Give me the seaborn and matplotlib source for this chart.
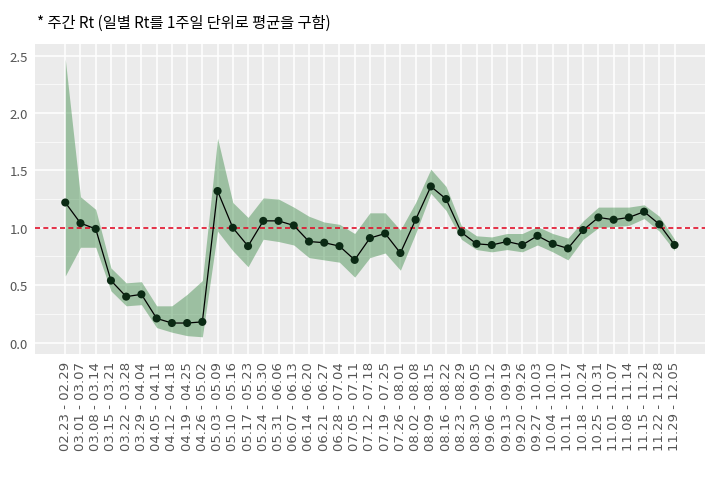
import seaborn as sns
import matplotlib.pyplot as plt
import numpy as np
import pandas as pd

weeks = ['02.23 - 02.29', '03.01 - 03.07', '03.08 - 03.14', '03.15 - 03.21', '03.22 - 03.28',
         '03.29 - 04.04', '04.05 - 04.11', '04.12 - 04.18', '04.19 - 04.25', '04.26 - 05.02',
         '05.03 - 05.09', '05.10 - 05.16', '05.17 - 05.23', '05.24 - 05.30', '05.31 - 06.06',
         '06.07 - 06.13', '06.14 - 06.20', '06.21 - 06.27', '06.28 - 07.04', '07.05 - 07.11',
         '07.12 - 07.18', '07.19 - 07.25', '07.26 - 08.01', '08.02 - 08.08', '08.09 - 08.15',
         '08.16 - 08.22', '08.23 - 08.29', '08.30 - 09.05', '09.06 - 09.12', '09.13 - 09.19',
         '09.20 - 09.26', '09.27 - 10.03', '10.04 - 10.10', '10.11 - 10.17', '10.18 - 10.24',
         '10.25 - 10.31', '11.01 - 11.07', '11.08 - 11.14', '11.15 - 11.21', '11.22 - 11.28',
         '11.29 - 12.05']
rt = [1.22, 1.04, 0.99, 0.54, 0.40, 0.42, 0.21, 0.17, 0.17, 0.18,
      1.32, 1.00, 0.84, 1.06, 1.06, 1.02, 0.88, 0.87, 0.84, 0.72,
      0.91, 0.95, 0.78, 1.07, 1.36, 1.25, 0.96, 0.86, 0.85, 0.88,
      0.85, 0.93, 0.86, 0.82, 0.98, 1.09, 1.07, 1.09, 1.14, 1.03,
      0.85]
rt_low = [0.58, 0.83, 0.83, 0.45, 0.32, 0.33, 0.13, 0.09, 0.06, 0.05,
          0.97, 0.80, 0.66, 0.90, 0.88, 0.85, 0.74, 0.72, 0.70, 0.57,
          0.74, 0.78, 0.63, 0.95, 1.30, 1.15, 0.90, 0.81, 0.79, 0.81,
          0.79, 0.85, 0.79, 0.72, 0.90, 1.00, 1.01, 1.02, 1.08, 0.97,
          0.80]
rt_high = [2.47, 1.27, 1.16, 0.65, 0.52, 0.53, 0.32, 0.32, 0.42, 0.54,
           1.78, 1.22, 1.09, 1.26, 1.25, 1.18, 1.10, 1.05, 1.03, 0.95,
           1.13, 1.13, 0.98, 1.22, 1.51, 1.36, 1.02, 0.93, 0.92, 0.95,
           0.95, 1.01, 0.95, 0.91, 1.06, 1.18, 1.18, 1.18, 1.20, 1.10,
           0.90]

df = pd.DataFrame({'week': weeks, 'rt': rt, 'low': rt_low, 'high': rt_high})
df['pos'] = np.arange(len(df))

sns.set_theme(style='darkgrid', rc={'axes.facecolor': '#EBEBEB',
                                    'grid.color': 'white'})
plt.rcParams['font.family'] = ['Noto Sans CJK KR', 'DejaVu Sans']

fig = plt.figure(figsize=(7.1, 4.85), dpi=100)
ax = fig.add_axes([0.049, 0.268, 0.944, 0.639])

# confidence band + reference line at Rt = 1
ax.fill_between(df['pos'], df['low'], df['high'], color='#3d8b47', alpha=0.45,
                linewidth=0, zorder=2)
ax.axhline(1.0, color='#e0102a', linestyle=(0, (3, 2)), linewidth=1.2, zorder=3)
sns.lineplot(data=df, x='pos', y='rt', color='black', linewidth=0.9, ax=ax, zorder=4)
sns.scatterplot(data=df, x='pos', y='rt', color='#0b2a14', s=34, edgecolor='none',
                ax=ax, zorder=5)

ax.set_xlim(-2, 42)
ax.set_ylim(-0.1, 2.6)
ax.set_xticks(df['pos'])
ax.set_xticklabels(df['week'], rotation=90, fontsize=9.5, color='#555555',
                   family='DejaVu Sans')
ax.set_yticks([0, 0.5, 1.0, 1.5, 2.0, 2.5])
ax.set_yticklabels(['0.0', '0.5', '1.0', '1.5', '2.0', '2.5'], fontsize=9.5,
                   color='#555555')
ax.set_yticks([0.25, 0.75, 1.25, 1.75, 2.25], minor=True)
ax.grid(which='major', color='white', linewidth=1.1)
ax.grid(which='minor', axis='y', color='white', linewidth=0.5)
ax.tick_params(axis='both', which='major', length=3, color='#555555', pad=2)
ax.tick_params(axis='y', which='minor', length=0)
ax.set_xlabel('')
ax.set_ylabel('')
for s in ax.spines.values():
    s.set_visible(False)

fig.text(0.052, 0.952, '* 주간 Rt (일별 Rt를 1주일 단위로 평균을 구함)', fontsize=11,
         ha='left', va='center', color='black')

fig.savefig('out.png', dpi=100)
